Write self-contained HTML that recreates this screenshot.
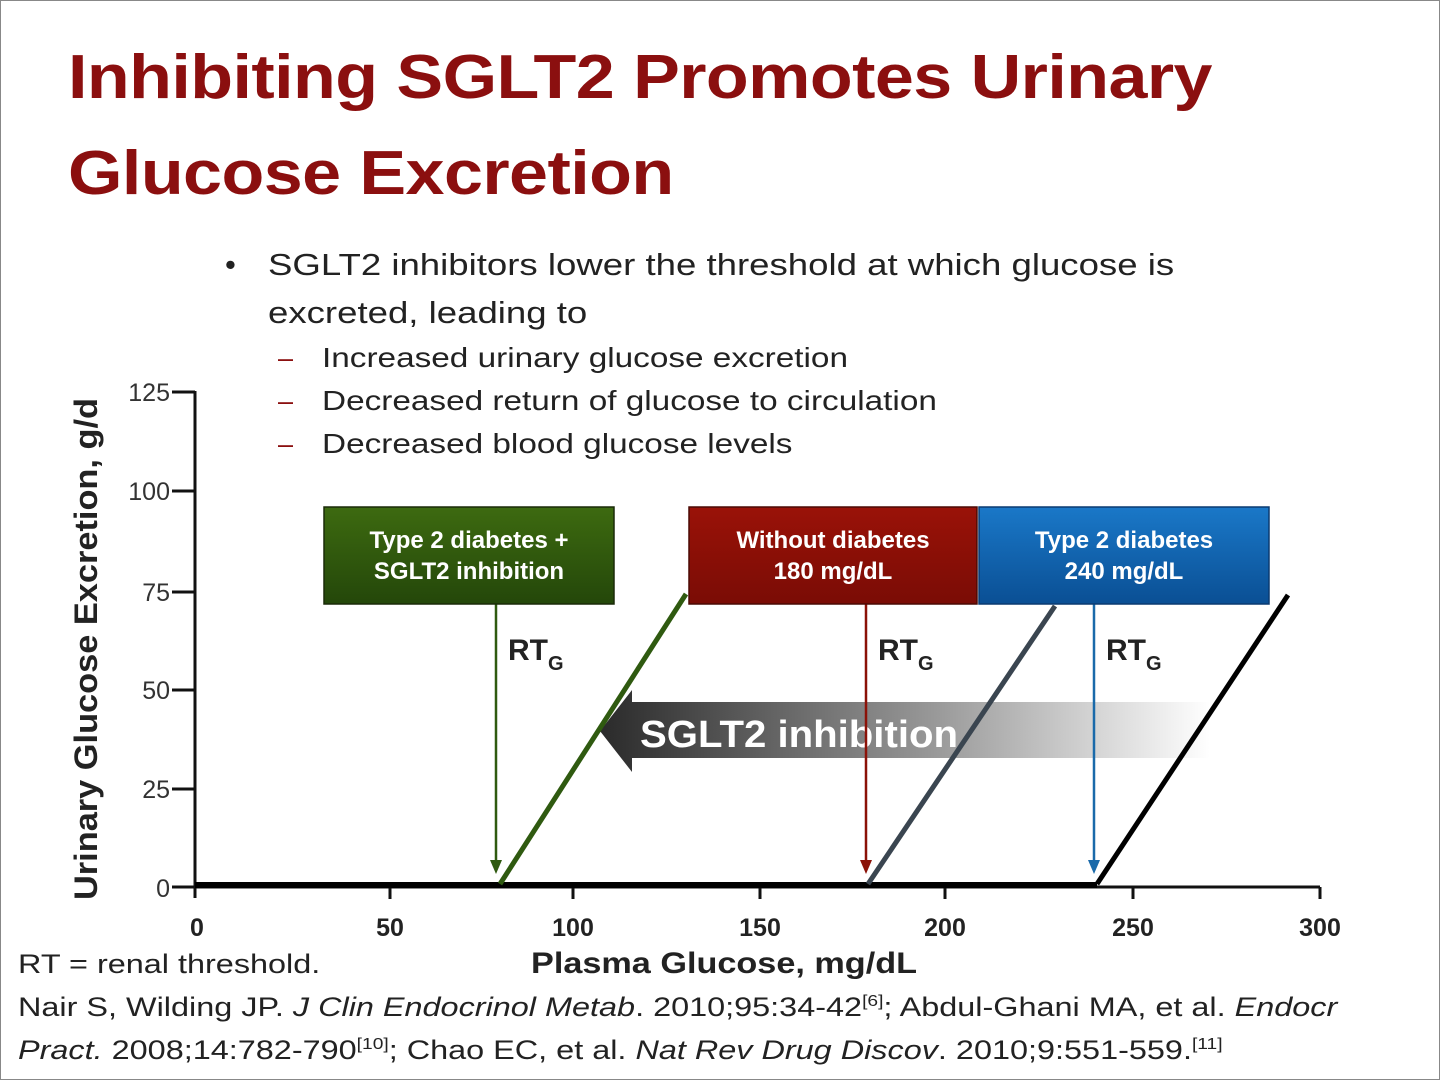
<!DOCTYPE html>
<html><head><meta charset="utf-8"><style>
body{margin:0;width:1440px;height:1080px;background:#fff;overflow:hidden;font-family:"Liberation Sans",sans-serif;}
.t{position:absolute;white-space:nowrap;transform-origin:0 0;}
</style></head><body>
<div style="position:absolute;left:0;top:0;width:1438px;height:1078px;border:1px solid #888;"></div>
<div class="t" style="left:68px;top:42px;font-size:62px;font-weight:bold;color:#8b0f0f;letter-spacing:-0.5px;transform:scaleX(1.13);">Inhibiting SGLT2 Promotes Urinary</div>
<div class="t" style="left:68px;top:138px;font-size:62px;font-weight:bold;color:#8b0f0f;letter-spacing:-0.5px;transform:scaleX(1.13);">Glucose Excretion</div>
<div class="t" style="left:225px;top:247px;font-size:31px;color:#222;">•</div>
<div class="t" style="left:268px;top:247px;font-size:31px;color:#222;transform:scaleX(1.18);">SGLT2 inhibitors lower the threshold at which glucose is</div>
<div class="t" style="left:268px;top:295px;font-size:31px;color:#222;transform:scaleX(1.18);">excreted, leading to</div>
<div class="t" style="left:278px;top:343px;font-size:27px;color:#8b0f0f;">–</div>
<div class="t" style="left:322px;top:342px;font-size:28px;color:#222;transform:scaleX(1.19);">Increased urinary glucose excretion</div>
<div class="t" style="left:278px;top:386px;font-size:27px;color:#8b0f0f;">–</div>
<div class="t" style="left:322px;top:385px;font-size:28px;color:#222;transform:scaleX(1.19);">Decreased return of glucose to circulation</div>
<div class="t" style="left:278px;top:429px;font-size:27px;color:#8b0f0f;">–</div>
<div class="t" style="left:322px;top:428px;font-size:28px;color:#222;transform:scaleX(1.19);">Decreased blood glucose levels</div>

<svg width="1440" height="1080" style="position:absolute;left:0;top:0">
<defs>
<linearGradient id="g" x1="0" x2="1"><stop offset="0" stop-color="#2a2a2a"/><stop offset="0.55" stop-color="#999"/><stop offset="1" stop-color="#fff"/></linearGradient>
<linearGradient id="gg" x1="0" y1="0" x2="0" y2="1"><stop offset="0" stop-color="#3d6a10"/><stop offset="1" stop-color="#24470a"/></linearGradient>
<linearGradient id="rg" x1="0" y1="0" x2="0" y2="1"><stop offset="0" stop-color="#9a1208"/><stop offset="1" stop-color="#7a0c05"/></linearGradient>
<linearGradient id="bg" x1="0" y1="0" x2="0" y2="1"><stop offset="0" stop-color="#1a78c8"/><stop offset="1" stop-color="#0a4f94"/></linearGradient>
</defs>
<g stroke="#111" stroke-width="3">
<line x1="195" y1="391" x2="195" y2="898"/>
<line x1="195" y1="887" x2="1320" y2="887"/>
<line x1="172" y1="392" x2="195" y2="392"/><line x1="172" y1="491" x2="195" y2="491"/>
<line x1="172" y1="592" x2="195" y2="592"/><line x1="172" y1="690" x2="195" y2="690"/>
<line x1="172" y1="789" x2="195" y2="789"/><line x1="172" y1="887" x2="195" y2="887"/>
<line x1="390" y1="887" x2="390" y2="899"/><line x1="573" y1="887" x2="573" y2="899"/>
<line x1="760" y1="887" x2="760" y2="899"/><line x1="945" y1="887" x2="945" y2="899"/>
<line x1="1133" y1="887" x2="1133" y2="899"/><line x1="1320" y1="887" x2="1320" y2="899"/>
</g>
<line x1="195" y1="885" x2="1097" y2="885" stroke="#000" stroke-width="6"/>
<g font-size="25" fill="#333" text-anchor="end">
<text x="170" y="401">125</text><text x="170" y="500">100</text><text x="170" y="601">75</text>
<text x="170" y="699">50</text><text x="170" y="798">25</text><text x="170" y="897">0</text>
</g>
<g font-size="25" font-weight="bold" fill="#222" text-anchor="middle">
<text x="197" y="936">0</text><text x="390" y="936">50</text><text x="573" y="936">100</text>
<text x="760" y="936">150</text><text x="945" y="936">200</text><text x="1133" y="936">250</text><text x="1320" y="936">300</text>
</g>
<text x="724" y="973" font-size="30" font-weight="bold" fill="#222" text-anchor="middle" textLength="386" lengthAdjust="spacingAndGlyphs">Plasma Glucose, mg/dL</text>
<text transform="translate(97,649) rotate(-90)" font-size="32" font-weight="bold" fill="#222" text-anchor="middle" textLength="502" lengthAdjust="spacingAndGlyphs">Urinary Glucose Excretion, g/d</text>
<polygon points="600,731 632,690 632,702 1210,702 1210,758 632,758 632,772" fill="url(#g)"/>
<text x="640" y="747" font-size="38" font-weight="bold" fill="#fff" textLength="318" lengthAdjust="spacingAndGlyphs">SGLT2 inhibition</text>
<line x1="500" y1="884" x2="686" y2="594" stroke="#2f5a10" stroke-width="5"/>
<line x1="868" y1="884" x2="1055" y2="606" stroke="#3a4550" stroke-width="5"/>
<line x1="1097" y1="884" x2="1288" y2="595" stroke="#000" stroke-width="5"/>
<line x1="496" y1="604" x2="496" y2="866" stroke="#2f5a10" stroke-width="2.5"/>
<polygon points="490,860 502,860 496,874" fill="#2f5a10"/>
<line x1="866" y1="604" x2="866" y2="866" stroke="#8b1208" stroke-width="2.5"/>
<polygon points="860,860 872,860 866,874" fill="#8b1208"/>
<line x1="1094" y1="604" x2="1094" y2="866" stroke="#1a6aaa" stroke-width="2.5"/>
<polygon points="1088,860 1100,860 1094,874" fill="#1a6aaa"/>
<g font-size="30" font-weight="bold" fill="#222">
<text x="508" y="660">RT<tspan font-size="20" dy="10">G</tspan></text>
<text x="878" y="660">RT<tspan font-size="20" dy="10">G</tspan></text>
<text x="1106" y="660">RT<tspan font-size="20" dy="10">G</tspan></text>
</g>
<rect x="324" y="507" width="290" height="97" fill="url(#gg)" stroke="#1a2a08" stroke-width="1.5"/>
<rect x="689" y="507" width="288" height="97" fill="url(#rg)" stroke="#4a0a05" stroke-width="1.5"/>
<rect x="979" y="507" width="290" height="97" fill="url(#bg)" stroke="#0a3a70" stroke-width="1.5"/>
<g font-size="24" font-weight="bold" fill="#fff" text-anchor="middle">
<text x="469" y="548">Type 2 diabetes +</text><text x="469" y="579">SGLT2 inhibition</text>
<text x="833" y="548">Without diabetes</text><text x="833" y="579">180 mg/dL</text>
<text x="1124" y="548">Type 2 diabetes</text><text x="1124" y="579">240 mg/dL</text>
</g>
</svg>
<div class="t" style="left:18px;top:949px;font-size:27px;color:#222;transform:scaleX(1.2);">RT = renal threshold.</div>
<div class="t" style="left:18px;top:992px;font-size:27px;color:#222;transform:scaleX(1.2);">Nair S, Wilding JP. <i>J Clin Endocrinol Metab</i>. 2010;95:34-42<sup style="font-size:16px">[6]</sup>; Abdul-Ghani MA, et al. <i>Endocr</i></div>
<div class="t" style="left:18px;top:1035px;font-size:27px;color:#222;transform:scaleX(1.2);"><i>Pract.</i> 2008;14:782-790<sup style="font-size:16px">[10]</sup>; Chao EC, et al. <i>Nat Rev Drug Discov</i>. 2010;9:551-559.<sup style="font-size:16px">[11]</sup></div>
</body></html>
